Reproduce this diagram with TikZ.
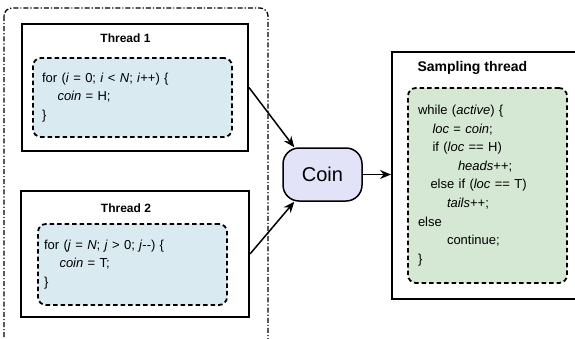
\documentclass[tikz,border=0pt]{standalone}
\usepackage{fontspec}
\setmainfont{Liberation Sans}
\usetikzlibrary{
    positioning,
    arrows.meta,
}
\definecolor{codeblue}{RGB}{218,234,241}
\definecolor{codegreen}{RGB}{213,232,212}
\definecolor{coinfill}{RGB}{226,226,248}
\tikzset{
    % Box styles
    thread box/.style={rectangle, draw, line width=2pt, inner sep=0pt},
    code block/.style={rectangle, draw, line width=1.8pt, dash pattern=on 4.5pt off 3pt,
                       rounded corners=8pt, align=left, inner ysep=0pt,
                       font=\fontsize{13}{18.6}\selectfont},
    coin/.style={rectangle, draw, line width=1.5pt, rounded corners=16pt, fill=coinfill,
                 font=\fontsize{20}{24}\selectfont},
    % Labels and arrows
    thread label/.style={font=\bfseries\fontsize{12}{14}\selectfont},
    arrow/.style={-{Stealth[length=11pt, width=9pt]}, line width=1.5pt},
}

\begin{document}
\begin{tikzpicture}[x=1pt, y=1pt]
    \useasboundingbox (0,0) rectangle (575,-338);
    \clip (0,0) rectangle (575,-338);

    % Writer threads
    \draw[line width=1.3pt, dash pattern=on 5pt off 2pt on 1.2pt off 2pt, rounded corners=8pt]
        (4,-8) rectangle (268,-352);

    \node[thread box, minimum width=226, minimum height=127] (thread1) at (135,-87.5) {};
    \node[thread label] (label1) at (125.5,-38) {Thread 1};
    \node[code block, fill=codeblue, inner xsep=9pt, text width=181pt, minimum height=79]
        (code1) at (132.5,-97.5) {%
        for (\textit{i} = 0; \textit{i} < \textit{N}; \textit{i}++) \{\\
        \hspace*{15.5pt}\textit{coin} = H;\\
        \}};

    \node[thread box, minimum width=228, minimum height=126] (thread2) at (135,-254) {};
    \node[thread label] (label2) at (126,-208) {Thread 2};
    \node[code block, fill=codeblue, inner xsep=6pt, text width=177pt, minimum height=81]
        (code2) at (132.5,-264.5) {%
        for (\textit{j} = \textit{N}; \textit{j} > 0; \textit{j}-{}-) \{\\
        \hspace*{15.5pt}\textit{coin} = T;\\
        \}};

    % Shared variable
    \node[coin, minimum width=79, minimum height=53] (coin) at (322.5,-174.5) {Coin};

    % Sampling thread
    \node[thread box, minimum width=208, minimum height=247] (sampler) at (496,-175.5) {};
    \node[thread label, font=\bfseries\fontsize{14}{16}\selectfont, anchor=west]
        (label3) at (414,-68) {Sampling thread};
    \node[code block, fill=codegreen, inner xsep=10pt, text width=139pt, minimum height=195]
        (code3) at (487.5,-185.5) {%
        while (\textit{active}) \{\\
        \hspace*{14.5pt}\textit{loc} = \textit{coin};\\
        \hspace*{14.5pt}if (\textit{loc} == H)\\
        \hspace*{40pt}\textit{heads}++;\\
        \hspace*{12.5pt}else if (\textit{loc} == T)\\
        \hspace*{29pt}\textit{tails}++;\\
        else\\
        \hspace*{29pt}continue;\\
        \}};

    % Connections
    \draw[arrow] (thread1.east) -- (coin.136);
    \draw[arrow] (thread2.east) -- (coin.224);
    \draw[arrow] (coin.east) -- (coin.east -| sampler.west);
\end{tikzpicture}
\end{document}
